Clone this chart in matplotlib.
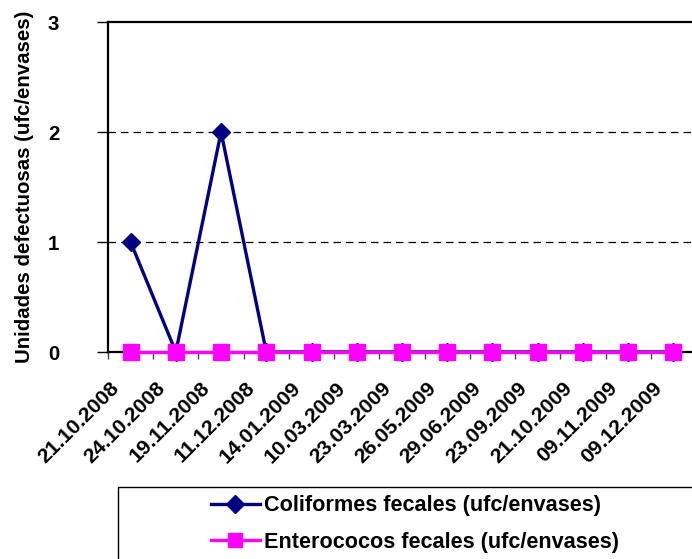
import matplotlib
matplotlib.use("Agg")
import matplotlib.pyplot as plt
import matplotlib.transforms as mtransforms
from matplotlib.patches import Rectangle
from matplotlib.lines import Line2D
import numpy as np

plt.rcParams['font.family'] = ['Liberation Sans', 'DejaVu Sans']
plt.rcParams['font.weight'] = 'bold'

fechas = ["21.10.2008", "24.10.2008", "19.11.2008", "11.12.2008", "14.01.2009",
          "10.03.2009", "23.03.2009", "26.05.2009", "29.06.2009", "23.09.2009",
          "21.10.2009", "09.11.2009", "09.12.2009"]
coliformes = [1, 0, 2, 0, 0, 0, 0, 0, 0, 0, 0, 0, 0]
enterococos = [0, 0, 0, 0, 0, 0, 0, 0, 0, 0, 0, 0, 0]
y_ticks = [0, 1, 2, 3]

W, H = 692, 559
FS = 14.7
fig = plt.figure(figsize=(W / 100, H / 100), dpi=100)
ax = fig.add_axes([108 / W, (H - 352) / H, 588 / W, 330 / H])

x = np.arange(len(fechas))
navy = "#000080"
magenta = "#FF00FF"

ax.plot(x, coliformes, color=navy, lw=2.4, marker="D", markersize=9.5,
        markerfacecolor=navy, markeredgecolor=navy, zorder=3, clip_on=False)
ax.plot(x, enterococos, color=magenta, lw=2.4, marker="s", markersize=11,
        markerfacecolor=magenta, markeredgecolor=magenta, zorder=4, clip_on=False)

ax.set_xlim(-0.5, len(fechas) - 0.5)
ax.set_ylim(0, 3)
ax.set_yticks(y_ticks)
ax.set_yticklabels([str(v) for v in y_ticks], fontsize=FS, fontweight="bold")
for v in y_ticks[1:-1]:
    ax.axhline(v, color="black", lw=0.9, ls=(0, (6, 4)), zorder=1)

ax.set_xticks(x)
ax.set_xticks(np.arange(-0.5, len(fechas), 1.0), minor=True)
ax.tick_params(axis="x", which="major", length=0, pad=24)
ax.tick_params(axis="x", which="minor", length=5, width=1, direction="out", color="#444444")
ax.tick_params(axis="y", length=8, width=1, direction="out", pad=27)
ax.set_xticklabels(fechas, rotation=45, ha="right", va="center",
                   rotation_mode="anchor", fontsize=15.2, fontweight="bold")
# nudge the slanted date labels to the left of their tick positions
shift = mtransforms.ScaledTranslation(-0.14, 0, fig.dpi_scale_trans)
for tick in ax.xaxis.get_major_ticks():
    tick.label1.set_transform(tick.label1.get_transform() + shift)

for side in ["left", "bottom", "top"]:
    ax.spines[side].set_linewidth(1.6)
    ax.spines[side].set_color("black")
ax.spines["right"].set_visible(False)

ax.set_ylabel("Unidades defectuosas (ufc/envases)", fontsize=FS, fontweight="bold")
ax.yaxis.set_label_coords(-(108 - 34) / 588, 0.5)

# legend box
fig.patches.append(Rectangle((118 / W, -0.05), 0.9, (H - 487) / H + 0.05,
                             transform=fig.transFigure, facecolor="white",
                             edgecolor="black", lw=1.0, zorder=0))
handles = [Line2D([], [], color=navy, lw=2.4, marker="D", markersize=9),
           Line2D([], [], color=magenta, lw=2.4, marker="s", markersize=10.5)]
fig.legend(handles, ["Coliformes fecales (ufc/envases)", "Enterococos fecales (ufc/envases)"],
           loc="center left", bbox_to_anchor=(200 / W, (H - 524) / H),
           frameon=False, fontsize=15.6, handlelength=2.25, handletextpad=0.22,
           labelspacing=0.72, borderpad=0)

fig.savefig("out.png", dpi=100)
